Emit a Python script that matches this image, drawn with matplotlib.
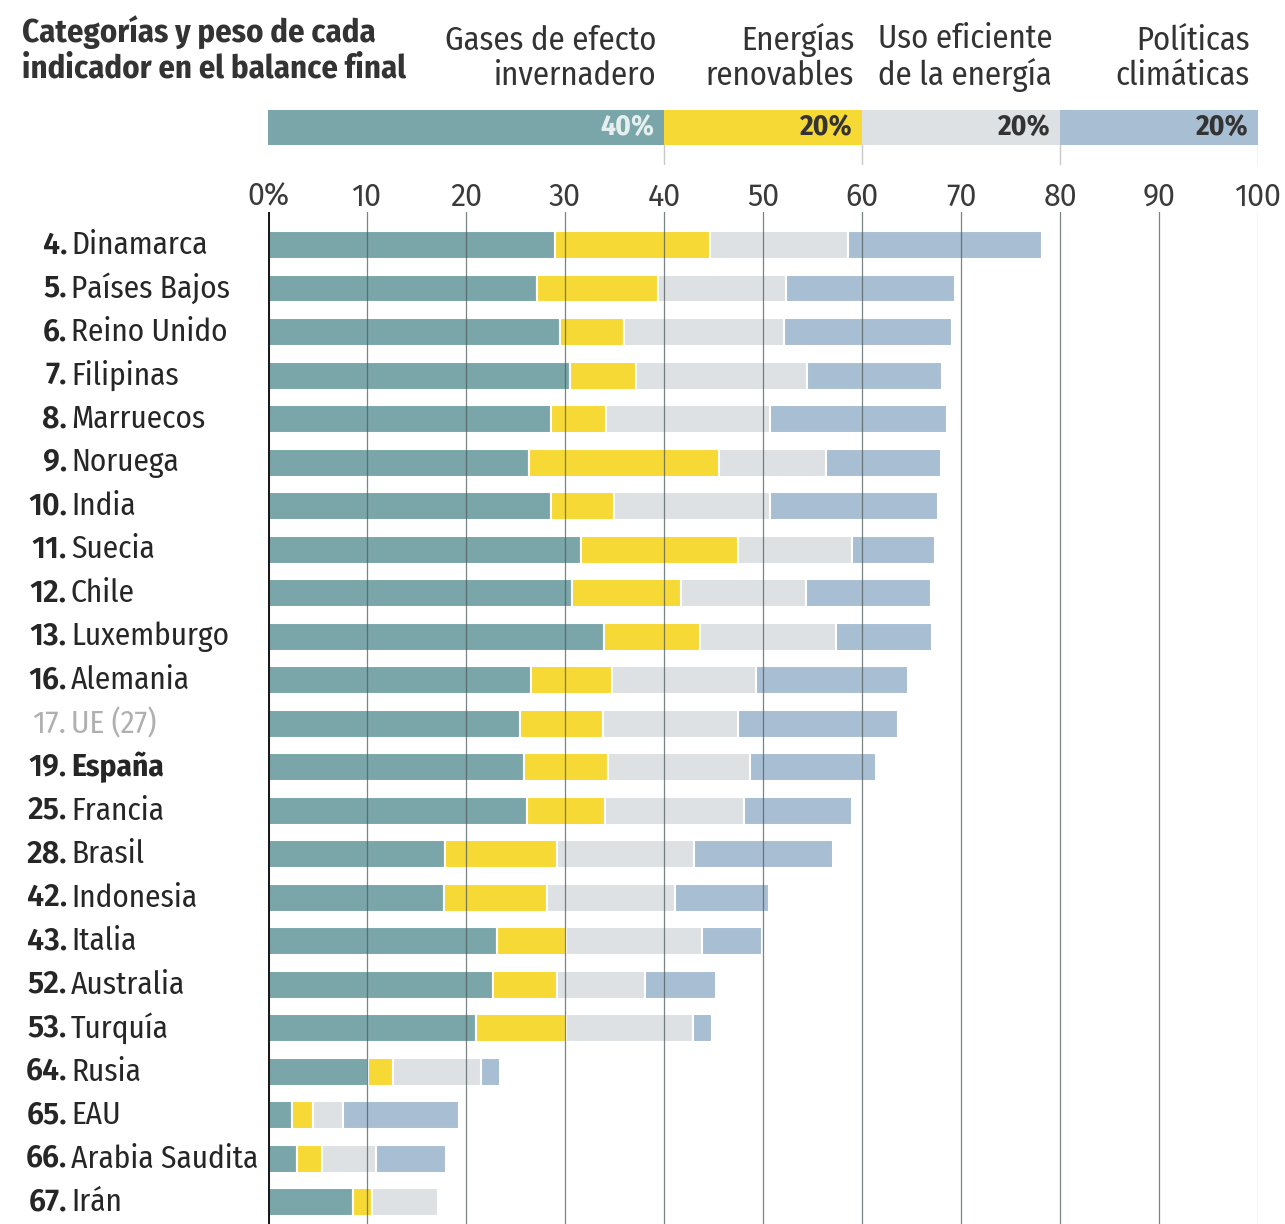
import matplotlib.pyplot as plt
import matplotlib.transforms as mtransforms
import numpy as np

plt.rcParams['font.family'] = ['Fira Sans Condensed', 'Roboto Condensed', 'DejaVu Sans']

ranks = ['4.', '5.', '6.', '7.', '8.', '9.', '10.', '11.', '12.', '13.', '16.', '17.',
         '19.', '25.', '28.', '42.', '43.', '52.', '53.', '64.', '65.', '66.', '67.']
countries = ['Dinamarca', 'Países Bajos', 'Reino Unido', 'Filipinas', 'Marruecos', 'Noruega',
             'India', 'Suecia', 'Chile', 'Luxemburgo', 'Alemania', 'UE (27)', 'España',
             'Francia', 'Brasil', 'Indonesia', 'Italia', 'Australia', 'Turquía', 'Rusia',
             'EAU', 'Arabia Saudita', 'Irán']

gases = [29.0, 27.2, 29.5, 30.5, 28.6, 26.4, 28.6, 31.6, 30.7, 33.9, 26.6, 25.5,
         25.9, 26.2, 17.9, 17.8, 23.1, 22.7, 21.0, 10.1, 2.4, 2.9, 8.6]
renovables = [15.6, 12.2, 6.5, 6.7, 5.5, 19.2, 6.3, 15.9, 11.0, 9.7, 8.1, 8.3,
              8.4, 7.8, 11.3, 10.4, 7.0, 6.5, 9.1, 2.5, 2.1, 2.6, 1.9]
eficiencia = [14.0, 12.9, 16.1, 17.2, 16.6, 10.8, 15.8, 11.5, 12.6, 13.8, 14.6, 13.7,
              14.4, 14.1, 13.8, 12.9, 13.7, 8.9, 12.8, 8.9, 3.1, 5.4, 6.7]
politicas = [19.6, 17.1, 17.0, 13.7, 17.9, 11.6, 17.0, 8.4, 12.7, 9.7, 15.3, 16.1,
             12.7, 10.9, 14.1, 9.5, 6.1, 7.2, 1.9, 1.9, 11.7, 7.1, 0.0]

cat_labels = ['Gases de efecto\ninvernadero', 'Energías\nrenovables',
              'Uso eficiente\nde la energía', 'Políticas\nclimáticas']
cat_weights = [40, 20, 20, 20]
cat_colors = ['#7ba6a9', '#f6d935', '#dde1e3', '#a8bed2']
ticks = [0, 10, 20, 30, 40, 50, 60, 70, 80, 90, 100]
tick_labels = ['0%', '10', '20', '30', '40', '50', '60', '70', '80', '90', '100']

W, H = 1285, 1224
fig = plt.figure(figsize=(W / 100, H / 100), dpi=100)

x0, x1 = 268, 1258
ax = fig.add_axes([x0 / W, 0, (x1 - x0) / W, 1 - 212 / H])

series = [gases, renovables, eficiencia, politicas]
y = np.arange(len(countries))
left = np.zeros(len(countries))
for vals, col in zip(series, cat_colors):
    vals = np.array(vals)
    ax.barh(y, vals, left=left, height=0.64, color=col, edgecolor='white',
            linewidth=1.5, zorder=2)
    left += vals

ax.set_xlim(0, 100)
ax.set_ylim(len(countries) - 0.5, -0.76)
for t in ticks[1:]:
    ax.axvline(t, color='#4f5b5c', lw=0.9, alpha=0.75 if t < 100 else 0.35, zorder=3)
ax.axvline(0, color='#1a1a1a', lw=2.2, zorder=4)

ax.xaxis.tick_top()
ax.set_xticks(ticks)
ax.set_xticklabels(tick_labels, fontsize=22, color='#3a3a3a', family='Fira Sans')
ax.tick_params(axis='x', length=0, pad=0)
ax.set_yticks([])
for s in ax.spines.values():
    s.set_visible(False)

# country labels
trans = mtransforms.blended_transform_factory(fig.transFigure, ax.transData)
for i, (r, c) in enumerate(zip(ranks, countries)):
    col = '#b0b0b0' if c == 'UE (27)' else '#262626'
    nw = 'normal' if c == 'UE (27)' else 'semibold'
    cw = 'bold' if c == 'España' else 'normal'
    ax.text(67 / W, i, r, transform=trans, ha='right', va='center', fontsize=22,
            fontweight=nw, color=col, family='Fira Sans')
    ax.text(71 / W, i, c, transform=trans, ha='left', va='center', fontsize=22.5,
            fontweight=cw, color=col)

# weight legend bar
axt = fig.add_axes([x0 / W, 1 - 165 / H, (x1 - x0) / W, 55 / H])
axt.set_xlim(0, 100)
axt.set_ylim(0, 1)
axt.axis('off')
ltrans = mtransforms.blended_transform_factory(axt.transData, fig.transFigure)
start = 0
for lab, w, col in zip(cat_labels, cat_weights, cat_colors):
    axt.barh(0.68, w, left=start, height=0.64, color=col, edgecolor='none')
    tc = '#e6efef' if w == 40 else '#333333'
    axt.text(start + w - 1.0, 0.68, f'{w}%', ha='right', va='center', fontsize=21,
             color=tc, fontweight='bold')
    axt.text(start + w - 0.8, 1 - 92 / H, lab, transform=ltrans, ha='right',
             va='bottom', fontsize=23.5, color='#333333', linespacing=1.12)
    axt.plot([start + w, start + w], [0, 0.36], color='#c8c8c8', lw=1)
    start += w

fig.text(22 / W, 1 - 16 / H, 'Categorías y peso de cada\nindicador en el balance final',
         ha='left', va='top', fontsize=23.5, fontweight='bold', color='#333333',
         linespacing=1.1)

fig.savefig('out.png', dpi=100, facecolor='white')
